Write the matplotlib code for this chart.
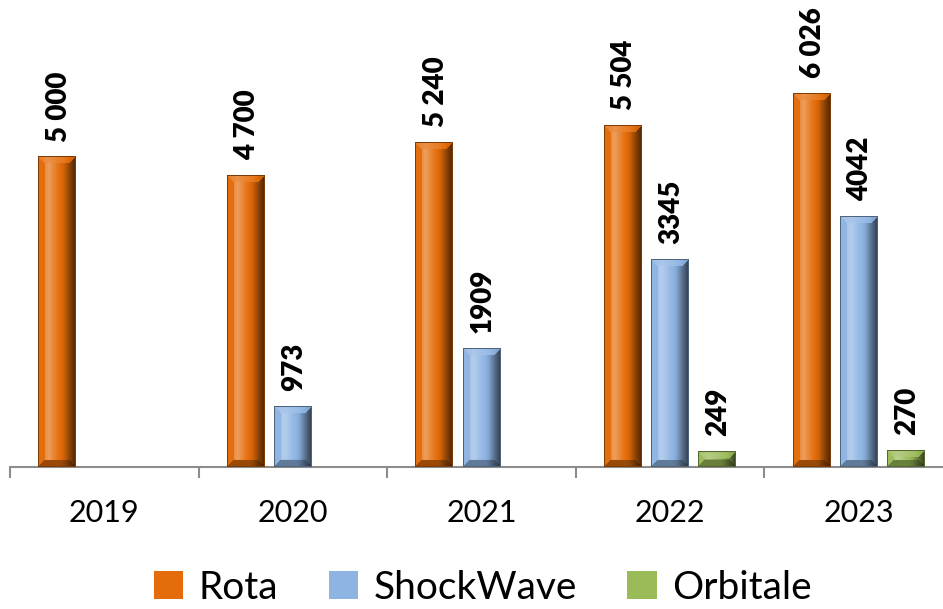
import numpy as np
import matplotlib
matplotlib.use("Agg")
import matplotlib.pyplot as plt
from matplotlib.colors import to_rgb

# chart data
years = ["2019", "2020", "2021", "2022", "2023"]
rota = [5000, 4700, 5240, 5504, 6026]
shockwave = [np.nan, 973, 1909, 3345, 4042]
orbitale = [np.nan, np.nan, np.nan, 249, 270]

series_names = ["Rota", "ShockWave", "Orbitale"]
series_colors = ["#E46C0A", "#8EB4E3", "#9BBB59"]

plt.rcParams["font.family"] = ["Lato", "DejaVu Sans"]


def shade(c, s):
    """s > 0 lightens towards white, s < 0 darkens towards black."""
    s = s[..., None]
    return np.where(s >= 0, c + (1 - c) * s, c * (1 + s))


def bevel_image(ax, rect, color):
    """Paint a bevelled, gradient face over one bar rectangle."""
    x0, w, h = rect.get_x(), rect.get_width(), rect.get_height()
    if not np.isfinite(h) or h <= 0:
        return
    p0 = ax.transData.transform((x0, 0))
    p1 = ax.transData.transform((x0 + w, h))
    nx = max(int(round(p1[0] - p0[0])), 2)
    ny = max(int(round(p1[1] - p0[1])), 2)
    c = np.array(to_rgb(color))

    u = np.linspace(0, 1, nx)
    prof = np.interp(u, [0, 0.1, 0.28, 0.5, 0.68, 0.85, 1.0],
                     [0.0, 0.14, 0.34, 0.08, -0.08, -0.4, -0.65])
    s = np.tile(prof, (ny, 1))

    jj, ii = np.meshgrid(np.arange(nx), np.arange(ny))
    b = min(7, ny // 2)
    top = (ii < b) & (jj >= ii) & (jj <= nx - 1 - ii)
    k = ny - 1 - ii
    bot = (k < b) & (jj >= k) & (jj <= nx - 1 - k)
    left = (jj < b) & (ii > jj) & (k > jj)
    s = np.where(left, 0.02, s)
    s = np.where(top, s * 0.4 + 0.12, s)
    s = np.where(bot, np.minimum(s, 0) * 0.6 - 0.32, s)
    edge = (ii == 0) | (jj == 0) | (jj == nx - 1) | (ii == ny - 1)
    s = np.where(edge, -0.45, s)
    img = np.clip(shade(c, s), 0, 1)
    ax.imshow(img, extent=(x0, x0 + w, 0, h), aspect="auto", origin="upper",
              interpolation="bilinear", zorder=3)


fig = plt.figure(figsize=(9.43, 6.09), dpi=100)
ax = fig.add_axes([10 / 943, 1 - 467 / 609, 933 / 943, 467 / 609])

x = np.arange(len(years))
width = 0.2
offsets = [-0.25, 0.0, 0.25]
all_series = [rota, shockwave, orbitale]

xlim = (-0.5, 4.448)
ylim = (0, 7530)

containers = []
for vals, name, col, off in zip(all_series, series_names, series_colors, offsets):
    bc = ax.bar(x + off, vals, width, color=col, label=name, zorder=2)
    containers.append(bc)

ax.set_xlim(*xlim)
ax.set_ylim(*ylim)

for bc, vals, col, name in zip(containers, all_series, series_colors, series_names):
    for rect, v in zip(bc, vals):
        if np.isnan(v):
            continue
        bevel_image(ax, rect, col)
        if name == "Rota":
            txt = f"{v:,.0f}".replace(",", " ")
        else:
            txt = f"{v:.0f}"
        ax.annotate(txt, (rect.get_x() + rect.get_width() / 2 + 0.008, v),
                    xytext=(0, 11), textcoords="offset points",
                    rotation=90, ha="center", va="bottom",
                    fontsize=20, fontweight="heavy", color="black")

ax.set_xlim(*xlim)
ax.set_ylim(*ylim)

for sp in ["top", "right", "left"]:
    ax.spines[sp].set_visible(False)
ax.spines["bottom"].set_color("#8c8c8c")
ax.spines["bottom"].set_linewidth(1.5)
ax.set_yticks([])

ax.set_xticks(x)
ax.set_xticklabels(years, fontsize=22)
ax.tick_params(axis="x", which="major", length=0, pad=23)
ax.set_xticks(np.arange(-0.5, 4.0, 1.0), minor=True)
ax.tick_params(axis="x", which="minor", length=8, width=1.5, color="#8c8c8c")

fig.legend(handles=containers, labels=series_names, loc="center",
           bbox_to_anchor=(0.512, 0.035), ncol=3, frameon=False,
           fontsize=28, handlelength=0.75, handleheight=0.75,
           handletextpad=0.4, columnspacing=1.3, borderaxespad=0)

fig.savefig("out.png", dpi=100)
